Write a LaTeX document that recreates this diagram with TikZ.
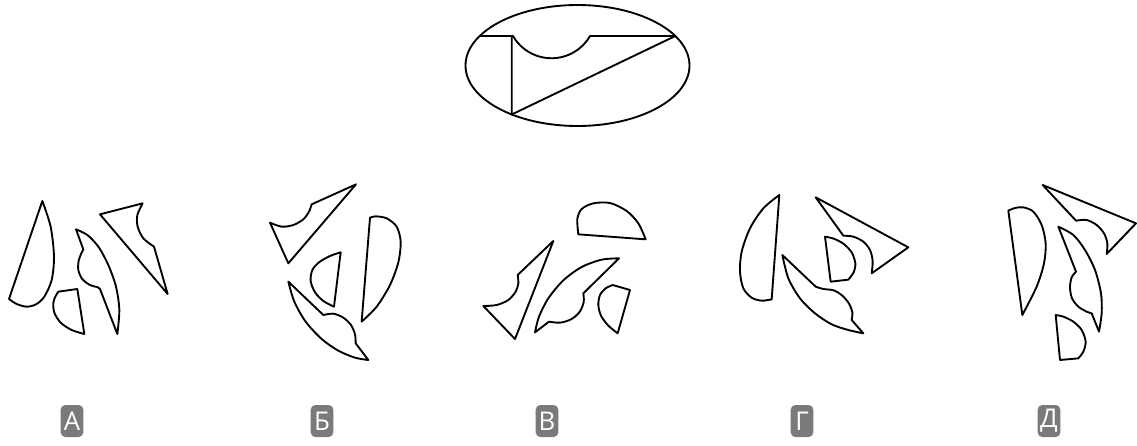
\documentclass[tikz,border=0pt]{standalone}
\usepackage{fontspec}
\setsansfont{Open Sans}
\usepackage{tikz}
\usepackage{xcolor}
\definecolor{labelgray}{RGB}{122,122,124}

\begin{document}
\begin{tikzpicture}[x=0.03cm, y=-0.03cm,
    piece/.style={line width=1.6pt, line join=round},
    lbl/.style={fill=labelgray, rounded corners=4pt, minimum width=0.68cm,
      minimum height=0.96cm, inner sep=0pt, text=white,
      font=\sffamily\fontsize{22}{22}\selectfont}]
  \useasboundingbox (0,0) rectangle (1137,446);

  % the whole oval
  \draw[piece] (577.5,65.5) ellipse [x radius=112, y radius=60.5];
  \draw[piece] (479.7,36) -- (513,36) arc[start angle=150, end angle=30, radius=44.5]
    -- (675.3,36) -- (511.7,114.5) -- (511.7,36);

  % A
  \begin{scope}[shift={(0,190)}, scale=1/3]
    \draw[piece] (127,33) -- (27,327) -- plot[smooth] coordinates {(27,327) (50,342) (80,350) (108,343) (133,320) (155,270) (162,200) (152,110) (127,33)} -- cycle;
    \draw[piece] (175,305) -- (232,297) -- (253,432) -- plot[smooth] coordinates {(253,432) (215,420) (182,398) (163,368) (160,338) (167,318) (175,305)} -- cycle;
    \draw[piece] (228,118) -- plot[smooth] coordinates {(228,118) (262,135) (295,170) (325,225) (348,290) (358,360) (352,432)} -- (300,297) -- (294,292) -- plot[smooth] coordinates {(294,292) (268,284) (246,266) (235,240) (236,212) (244,190) (250,178)} -- cycle;
    \draw[piece] (300,73) -- (428,40) -- plot[smooth] coordinates {(428,40) (412,75) (413,110) (430,145) (462,170)} -- (503,312) -- cycle;
  \end{scope}

  % B
  \begin{scope}[shift={(255,175)}, scale=1/3]
    \draw[piece] (45,143) -- plot[smooth] coordinates {(45,143) (80,155) (115,150) (145,133) (162,110) (170,88)} -- (303,28) -- (100,265) -- cycle;
    \draw[piece] (257,232) -- (237,395) -- plot[smooth] coordinates {(237,395) (205,378) (180,352) (167,318) (172,285) (192,262) (225,243) (257,232)} -- cycle;
    \draw[piece] (345,128) -- (320,440) -- plot[smooth] coordinates {(320,440) (365,395) (405,330) (430,262) (437,200) (425,155) (395,130) (362,124) (345,128)} -- cycle;
    \draw[piece] (100,320) -- (205,420) -- plot[smooth] coordinates {(205,420) (235,416) (265,428) (288,450) (300,478) (302,505)} -- (340,555) -- plot[smooth] coordinates {(340,555) (300,548) (250,527) (200,492) (152,440) (118,380) (100,320)} -- cycle;
  \end{scope}

  % V
  \begin{scope}[shift={(475,195)}, scale=1/3]
    \draw[piece] (310,118) -- (512,133) -- plot[smooth] coordinates {(512,133) (490,85) (455,48) (405,24) (355,25) (320,42) (307,72) (310,118)} -- cycle;
    \draw[piece] (25,333) -- plot[smooth] coordinates {(25,333) (65,330) (100,315) (122,290) (130,265) (128,240)} -- (235,138) -- (120,432) -- cycle;
    \draw[piece] (180,412) -- (222,380) -- plot[smooth] coordinates {(222,380) (255,383) (288,373) (313,352) (326,322) (325,295)} -- (432,190) -- plot[smooth] coordinates {(432,190) (380,194) (320,216) (265,256) (220,310) (192,365) (180,412)} -- cycle;
    \draw[piece] (413,270) -- (465,285) -- (428,415) -- plot[smooth] coordinates {(428,415) (400,392) (378,362) (370,330) (375,300) (392,280) (413,270)} -- cycle;
  \end{scope}

  % G
  \begin{scope}[shift={(735,185)}, scale=1/3]
    \draw[piece] (133,30) -- (110,343) -- plot[smooth] coordinates {(110,343) (80,347) (50,338) (25,310) (15,260) (20,200) (45,130) (85,70) (133,30)} -- cycle;
    \draw[piece] (242,37) -- (325,152) -- plot[smooth] coordinates {(325,152) (355,155) (385,170) (405,195) (413,228) (410,265)} -- (520,187) -- cycle;
    \draw[piece] (270,155) -- (287,290) -- (340,284) -- plot[smooth] coordinates {(340,284) (356,262) (361,235) (350,202) (325,176) (296,161) (270,155)} -- cycle;
    \draw[piece] (142,210) -- (242,305) -- plot[smooth] coordinates {(242,305) (265,312) (296,316) (322,332) (342,356) (352,382) (350,405)} -- (385,445) -- plot[smooth] coordinates {(385,445) (340,435) (290,418) (240,385) (195,340) (160,280) (142,210)} -- cycle;
  \end{scope}

  % D
  \begin{scope}[shift={(990,180)}, scale=1/3]
    \draw[piece] (158,15) -- (258,122) -- plot[smooth] coordinates {(258,122) (290,120) (320,135) (342,160) (352,190) (350,222)} -- (438,130) -- cycle;
    \draw[piece] (97,405) -- (55,92) -- plot[smooth] coordinates {(55,92) (75,84) (100,82) (130,95) (155,135) (167,190) (162,250) (140,320) (97,405)} -- cycle;
    \draw[piece] (205,140) -- (258,275) -- plot[smooth] coordinates {(258,275) (245,292) (240,322) (246,355) (265,380) (290,395) (305,400)} -- (327,455) -- plot[smooth] coordinates {(327,455) (335,400) (333,340) (315,270) (285,210) (250,165) (205,140)} -- cycle;
    \draw[piece] (197,405) -- (210,540) -- (265,535) -- plot[smooth] coordinates {(265,535) (280,515) (287,485) (275,450) (250,425) (220,410) (197,405)} -- cycle;
  \end{scope}

  % answer labels
  \node[lbl] (labA) at (72,421) {А};
  \node[lbl] (labB) at (322,421) {Б};
  \node[lbl] (labV) at (547,421) {В};
  \node[lbl] (labG) at (802,421) {Г};
  \node[lbl] (labD) at (1049,421) {Д};
\end{tikzpicture}
\end{document}
